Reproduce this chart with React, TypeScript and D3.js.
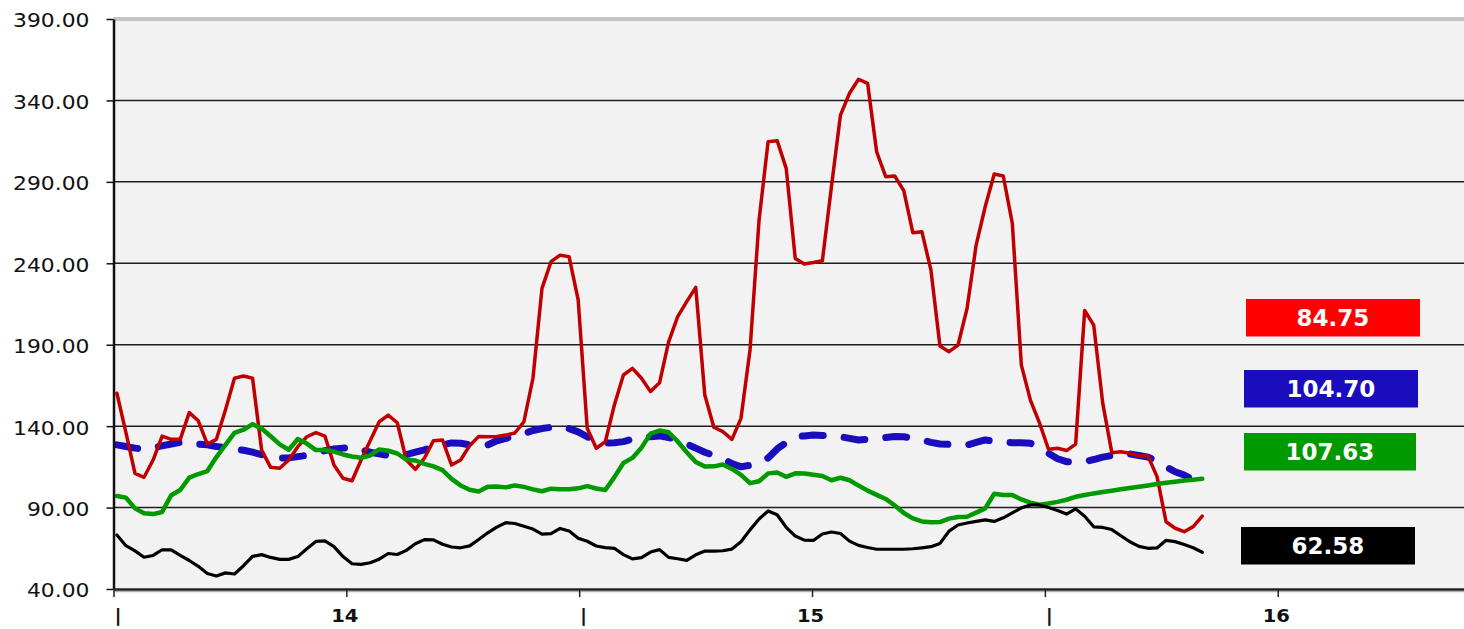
import React, { useRef, useEffect } from 'react';
import * as d3 from 'd3';

// y axis ticks and x axis (day) ticks
const yTicks = [40, 90, 140, 190, 240, 290, 340, 390];
const xTickDays = [13.5, 14, 14.5, 15, 15.5, 16];
const xTickLabels = ['|', '14', '|', '15', '|', '16'];

// sample times: first sample and spacing, in days
const startDay = 13.5073;
const stepDay = 0.019422;

const redValues = [
  160.2, 136, 111, 108.6, 119.2, 133.9, 131.9, 131.9, 148.3, 143.3,
  129, 131.9, 149.9, 169.4, 170.8, 169.4, 125.3, 114.7, 114.1, 119.2,
  127.4, 133.5, 136, 133.9, 116.1, 108, 106.5, 119.2, 131, 142.7,
  146.8, 142.1, 119.2, 113.5, 120.3, 131.1, 131.5, 116.1, 119.2, 128,
  133.7, 133.5, 133.6, 134.5, 135.8, 142.7, 169.4, 224.6, 241, 245,
  244, 217.5, 138.7, 126.4, 130.4, 153, 171.4, 175.5, 169.4, 161.2,
  166.7, 191.8, 207.2, 216.4, 225.2, 159.1, 139.3, 136.6, 131.9, 144.8,
  186.8, 266.6, 314.7, 315.3, 298.3, 243, 239.6, 240.5, 241.6, 287,
  331, 344.4, 353, 350.5, 308.5, 293.2, 293.6, 284.6, 258.8, 259.4,
  235.9, 189.2, 185.7, 189.8, 212.4, 251.2, 274.7, 294.8, 293.6, 264.5,
  177.5, 156, 142, 125.8, 126.4, 125, 129, 211, 202, 154,
  123.7, 124.3, 123.3, 121.7, 121.7, 109, 81.3, 77.3, 75.2, 78.3,
  84.75,
];

const blueValues = [
  128.5, 127.5, 126.5, 126, 126.5, 128, 129, 130, 130, 129,
  128.5, 127.5, 127, 126, 125.2, 124, 122.5, 121.5, 120.5, 120.5,
  121.3, 122, 123.5, 125, 126, 126.5, 127, 125.5, 124, 123,
  122, 121.5, 122.5, 124, 125.5, 127.3, 128.5, 129.7, 129.5, 128.5,
  127.2, 128.5, 131, 132.5, 134, 135.5, 137.3, 138.5, 139.3, 140,
  138.5, 136.5, 133.5, 131, 129.5, 129.8, 130.5, 132, 133.3, 133.5,
  134, 133, 131.5, 129, 126.5, 124, 122, 120, 117, 115,
  116, 117.5, 120.5, 126, 130, 133.5, 134, 134.6, 134.3, 134,
  133.5, 132.5, 131.5, 132, 132.5, 133, 133.7, 133.5, 132.5, 131.5,
  130, 129, 128.8, 128.6, 128.4, 130, 131.5, 130.8, 130.2, 129.8,
  129.8, 129.5, 127, 123.3, 120, 118.2, 118.2, 118.2, 119.5, 121,
  122, 122.5, 122.9, 122, 121, 118.5, 115, 112, 110, 107,
  104.7,
];

const greenValues = [
  97.1, 96.1, 89.5, 86.5, 86, 87.3, 97.6, 100.8, 108.4, 110.6,
  112.4, 121, 128.5, 135.8, 137.8, 141.2, 138.5, 133.8, 128.8, 125.5,
  132.1, 129.3, 125.3, 125.3, 124.4, 122.6, 121.4, 120.6, 122, 125.7,
  124.9, 123.2, 119.4, 118.9, 116.8, 115.3, 113, 107.6, 103.6, 100.9,
  99.9, 102.8, 103, 102.4, 103.6, 102.7, 101.2, 100, 101.6, 101.2,
  101.2, 101.8, 103.2, 101.7, 100.8, 108.7, 117.4, 120.5, 126.8, 135.4,
  137.3, 136.2, 130.6, 124, 118, 115.2, 115.3, 116.4, 113.7, 110.1,
  105, 106.2, 111, 111.5, 108.9, 111, 110.9, 110.2, 109.4, 106.8,
  108.3, 106.8, 103.5, 100.4, 97.8, 95.3, 91.3, 86.7, 83.4, 81.5,
  81, 81.1, 83.2, 84.2, 84.4, 86.9, 89.5, 98.5, 97.7, 97.7,
  95, 93, 91.8, 92.5, 93.5, 94.8, 96.6, 97.7, 98.7, 99.5,
  100.3, 101.2, 102, 102.8, 103.6, 104.5, 105.2, 105.9, 106.6, 107.1,
  107.63,
];

const blackValues = [
  73.2, 66.6, 63.4, 59.5, 60.6, 64.1, 64, 60.6, 57.5, 53.9,
  49.5, 48, 49.9, 49.2, 54.3, 60, 61.1, 59.4, 58.2, 58.2,
  59.9, 64.7, 69.2, 69.5, 66, 59.9, 55.5, 55.1, 56.1, 58.3,
  61.8, 61.2, 63.7, 67.8, 70.3, 70.2, 67.5, 65.8, 65.3, 66.5,
  70.4, 74.5, 78, 80.7, 80.2, 78.5, 76.8, 73.7, 74, 77.2,
  75.6, 71.2, 69.3, 66.4, 65.4, 65, 61.1, 58.5, 59.3, 62.7,
  64.2, 59.4, 58.6, 57.6, 61, 63.3, 63.2, 63.5, 64.5, 69,
  76.3, 83, 87.9, 85.6, 77.9, 72.5, 70, 69.8, 73.8, 75,
  74.1, 69.4, 66.8, 65.5, 64.4, 64.4, 64.4, 64.4, 64.7, 65.3,
  66, 68, 75.5, 79.3, 80.5, 81.5, 82.4, 81.5, 83.7, 86.7,
  89.8, 91.6, 91.6, 90, 88.2, 86, 89.2, 84.7, 78.2, 77.8,
  76.5, 72.7, 69, 66.2, 65, 65.2, 69.9, 69.1, 67.3, 65.3,
  62.58,
];

const lastValueLabels = ['84.75', '104.70', '107.63', '62.58'];

const Chart: React.FC = () => {
  const svgRef = useRef<SVGSVGElement>(null);

  useEffect(() => {
    if (!svgRef.current) return;
    const svg = d3.select(svgRef.current);
    svg.selectAll('*').remove();

    const width = 1464;
    const left = 113.5;
    const top = 19;
    const bottom = 589;

    const x = d3.scaleLinear().domain([13.5, 16.4]).range([left, width]);
    const y = d3.scaleLinear().domain([40, 390]).range([bottom, top]);

    // plot background
    svg.append('rect')
      .attr('x', left).attr('y', top)
      .attr('width', width - left).attr('height', bottom - top)
      .attr('fill', '#f2f2f2');
    svg.append('rect')
      .attr('x', left).attr('y', top - 2)
      .attr('width', width - left).attr('height', 4)
      .attr('fill', '#c4c4c4');

    // gridlines
    svg.append('g')
      .selectAll('line')
      .data(yTicks.filter(t => t > 40 && t < 390))
      .join('line')
      .attr('x1', left).attr('x2', width)
      .attr('y1', d => y(d)).attr('y2', d => y(d))
      .attr('stroke', '#1e1e1e')
      .attr('stroke-width', 1.5);

    // lines
    const line = d3.line<number>()
      .x((_, i) => x(startDay + i * stepDay))
      .y(d => y(d));

    const series = [
      { values: blueValues, color: '#1a0dbd', width: 7, dash: '21 21' },
      { values: redValues, color: '#c00000', width: 3.5, dash: null },
      { values: greenValues, color: '#009900', width: 4.5, dash: null },
      { values: blackValues, color: '#000000', width: 3.2, dash: null },
    ];
    series.forEach(s => {
      svg.append('path')
        .datum(s.values)
        .attr('fill', 'none')
        .attr('stroke', s.color)
        .attr('stroke-width', s.width)
        .attr('stroke-linejoin', 'round')
        .attr('stroke-linecap', 'round')
        .attr('stroke-dasharray', s.dash)
        .attr('d', line);
    });

    // y axis
    const yAxis = svg.append('g')
      .attr('transform', `translate(${left},0)`)
      .call(d3.axisLeft(y).tickValues(yTicks).tickSize(7).tickSizeOuter(0).tickFormat(d3.format('.2f')));
    yAxis.select('path.domain').attr('stroke', '#111').attr('stroke-width', 2.5);
    yAxis.selectAll('.tick line').attr('stroke', '#111').attr('stroke-width', 1.5);
    yAxis.selectAll('.tick text')
      .attr('x', -24 / 1.15)
      .attr('dy', '0.42em')
      .attr('transform', 'scale(1.15,1)')
      .attr('fill', '#111')
      .style('font-family', '"DejaVu Sans", Verdana, sans-serif')
      .style('font-size', '19px');

    // x axis
    svg.append('line')
      .attr('x1', left).attr('x2', width)
      .attr('y1', bottom + 2.5).attr('y2', bottom + 2.5)
      .attr('stroke', '#b0b0b0').attr('stroke-width', 1.5);
    const xAxis = svg.append('g')
      .attr('transform', `translate(0,${bottom})`)
      .call(d3.axisBottom(x).tickValues(xTickDays).tickSize(8).tickSizeOuter(0)
        .tickFormat((_, i) => xTickLabels[i]));
    xAxis.select('path.domain').attr('stroke', '#222').attr('stroke-width', 2.5);
    xAxis.selectAll('.tick line').attr('stroke', '#222').attr('stroke-width', 1.5);
    xAxis.selectAll<SVGTextElement, number>('.tick text')
      .attr('y', 33.5)
      .attr('dy', 0)
      .attr('x', (_, i) => (xTickLabels[i] === '|' ? 4 : -2) / 1.15)
      .attr('transform', 'scale(1.15,1)')
      .attr('fill', '#111')
      .style('font-family', '"DejaVu Sans", Verdana, sans-serif')
      .style('font-weight', 'bold')
      .style('font-size', '17px');

    // last value boxes
    const boxes = [
      { x: 1246, y: 299, w: 174, color: '#ff0000' },
      { x: 1244, y: 370, w: 174, color: '#1a0dbd' },
      { x: 1244, y: 433, w: 172, color: '#009900' },
      { x: 1241, y: 527, w: 174, color: '#000000' },
    ];
    const boxG = svg.append('g');
    boxes.forEach((b, i) => {
      boxG.append('rect')
        .attr('x', b.x).attr('y', b.y)
        .attr('width', b.w).attr('height', 37.5)
        .attr('fill', b.color);
      boxG.append('text')
        .attr('x', b.x + b.w / 2)
        .attr('y', b.y + 18.75 + 8.4)
        .attr('text-anchor', 'middle')
        .attr('fill', '#ffffff')
        .style('font-family', '"DejaVu Sans", Verdana, sans-serif')
        .style('font-weight', 'bold')
        .style('font-size', '23px')
        .text(lastValueLabels[i]);
    });
  }, []);

  return (
    <svg
      ref={svgRef}
      width={1464}
      height={629}
      style={{ position: 'absolute', left: 0, top: 0, display: 'block', background: '#ffffff' }}
    />
  );
};

export default function App() {
  return <Chart />;
}
